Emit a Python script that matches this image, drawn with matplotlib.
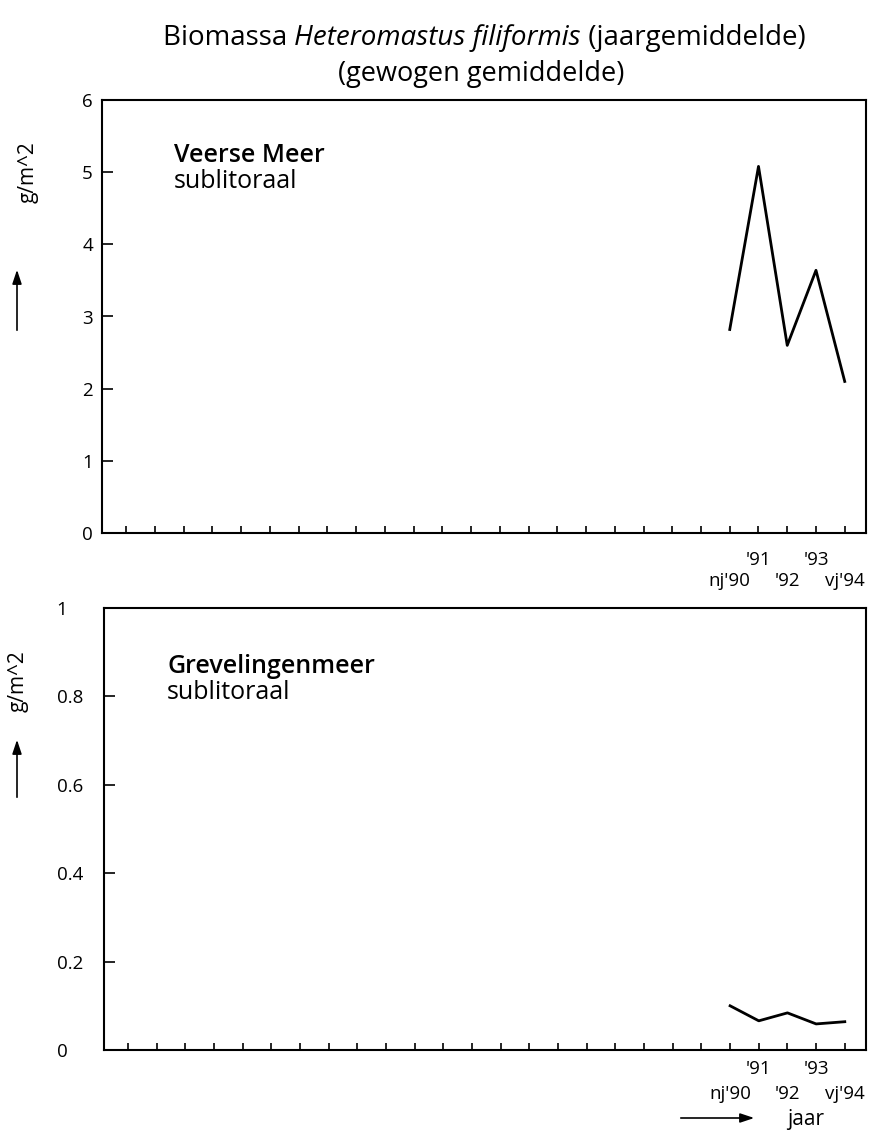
import numpy as np
import matplotlib.pyplot as plt

W, H = 874, 1135
plt.rcParams['font.family'] = ['Open Sans', 'DejaVu Sans']

# data
jaren = [1990, 1991, 1992, 1993, 1994]
veerse = [2.82, 5.08, 2.6, 3.64, 2.1]
grevelingen = [0.1, 0.066, 0.084, 0.059, 0.064]
tick_jaren = list(range(1969, 1995))
onder_labels = {1990: "nj'90", 1992: "'92", 1994: "vj'94"}
boven_labels = {1991: "'91", 1993: "'93"}
veerse_yticks = [0, 1, 2, 3, 4, 5, 6]
grev_yticks = [0, 0.2, 0.4, 0.6, 0.8, 1]
grev_ylabels = ['0', '0.2', '0.4', '0.6', '0.8', '1']


def fx(px):
    return px / W


def fy(py):
    return 1 - py / H


def box(l, t, r, b):
    return [l / W, 1 - b / H, (r - l) / W, (b - t) / H]


def paneel(fig, rect, waarden, yticks, ylabels, ymax, naam, tekst_xy, pads):
    ax = fig.add_axes(rect)
    ax.plot(jaren, waarden, color='black', lw=2.0)
    ax.set_xlim(1968.16, 1994.74)
    ax.set_ylim(0, ymax)
    ax.set_xticks(tick_jaren)
    ax.set_xticklabels([onder_labels.get(j, '') for j in tick_jaren])
    bj = sorted(boven_labels)
    ax.set_xticks(bj, minor=True)
    ax.set_xticklabels([boven_labels[j] for j in bj], minor=True)
    ax.xaxis.remove_overlapping_locs = False
    ax.tick_params(axis='x', which='major', direction='in', length=5, width=1.2,
                   pad=pads[0], labelsize=13.5)
    ax.tick_params(axis='x', which='minor', length=0, pad=pads[1], labelsize=13.5)
    ax.set_yticks(yticks)
    ax.set_yticklabels(ylabels)
    ax.tick_params(axis='y', direction='in', length=8, width=1.2, pad=pads[2],
                   labelsize=13.5)
    for s in ax.spines.values():
        s.set_linewidth(1.5)
    tx, ty1, ty2 = tekst_xy
    ax.text(tx, ty1, naam, transform=ax.transAxes, fontsize=18,
            fontweight='semibold', va='center', ha='left')
    ax.text(tx, ty2, 'sublitoraal', transform=ax.transAxes, fontsize=18,
            va='center', ha='left')
    return ax


fig = plt.figure(figsize=(W / 100, H / 100), dpi=100)

ax1 = paneel(fig, box(102, 100, 866, 533), veerse, veerse_yticks,
             [str(v) for v in veerse_yticks], 6, 'Veerse Meer',
             (0.094, 0.871, 0.811), (28, 13, 6.5))
ax2 = paneel(fig, box(104, 608, 866, 1050), grevelingen, grev_yticks,
             grev_ylabels, 1, 'Grevelingenmeer',
             (0.083, 0.867, 0.808), (25.5, 7.5, 34))
for lab in ax2.get_yticklabels():
    lab.set_horizontalalignment('left')

# title with italic species name
delen = [('Biomassa ', 'normal'), ('Heteromastus filiformis', 'italic'),
         (' (jaargemiddelde)', 'normal')]
renderer = fig.canvas.get_renderer()
teksten = []
for t, st in delen:
    teksten.append(fig.text(0, fy(38), t, fontsize=20, style=st,
                            ha='left', va='center'))
breedtes = [tx.get_window_extent(renderer).width for tx in teksten]
x0 = 484 - sum(breedtes) / 2
for tx, b in zip(teksten, breedtes):
    tx.set_x(fx(x0))
    x0 += b
fig.text(fx(481), fy(74), '(gewogen gemiddelde)', fontsize=19.5,
         ha='center', va='center')

# y-axis labels with arrows
for (lx, ly), (ax_, y0, y1) in zip([(28, 172), (18, 681)],
                                   [(17, 333, 267), (17, 800, 737)]):
    fig.text(fx(lx), fy(ly), 'g/m^2', rotation=90, fontsize=15,
             ha='center', va='center')
    fig.add_artist(plt.matplotlib.patches.FancyArrowPatch(
        (fx(ax_), fy(y0)), (fx(ax_), fy(y1)), transform=fig.transFigure,
        arrowstyle='-|>,head_length=0.6,head_width=0.2', mutation_scale=14,
        lw=1.2, color='black'))

# x-axis label with arrow
fig.add_artist(plt.matplotlib.patches.FancyArrowPatch(
    (fx(678), fy(1118)), (fx(757), fy(1118)), transform=fig.transFigure,
    arrowstyle='-|>,head_length=0.6,head_width=0.2', mutation_scale=14,
    lw=1.2, color='black'))
fig.text(fx(787), fy(1120), 'jaar', fontsize=15, ha='left', va='center')

fig.savefig('out.png', dpi=100)
